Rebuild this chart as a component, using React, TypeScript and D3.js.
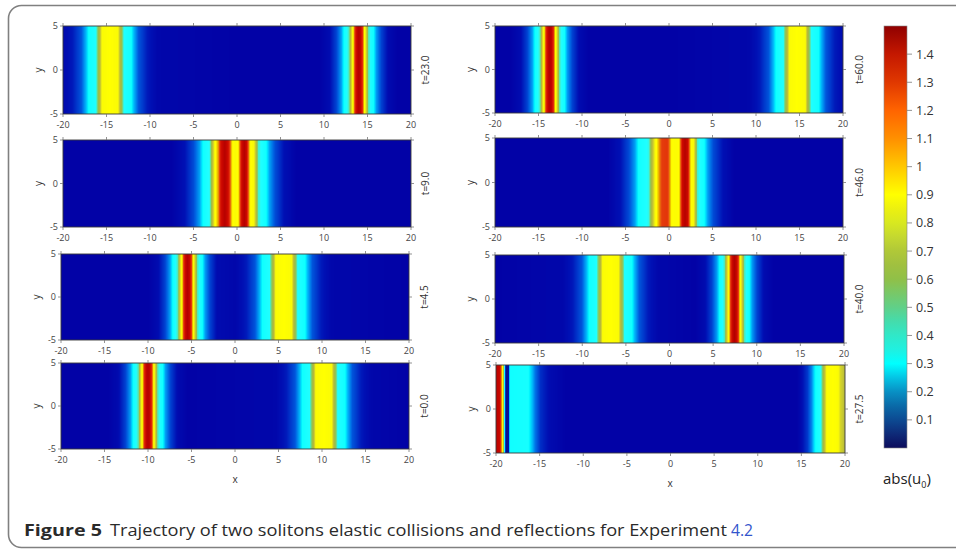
import React from "react";
import * as d3 from "d3";

// ---------- data ----------
const xTicks = [-20, -15, -10, -5, 0, 5, 10, 15, 20];
const yTicks = [-5, 0, 5];
const colorbarTicks = [0.1, 0.2, 0.3, 0.4, 0.5, 0.6, 0.7, 0.8, 0.9, 1.0, 1.1, 1.2, 1.3, 1.4];
const timeLabelsLeft = ["t=23.0", "t=9.0", "t=4.5", "t=0.0"];
const timeLabelsRight = ["t=60.0", "t=46.0", "t=40.0", "t=27.5"];

// |u0| along x (uniform in y) as [x, value] knots
const profileT23: [number, number][] = [
  [-20, 0.045], [-18.9, 0.07], [-17.9, 0.13], [-17.35, 0.22], [-17.05, 0.3], [-16.2, 0.38], [-16.05, 0.48],
  [-15.75, 0.66], [-15.5, 0.88], [-14.6, 0.93], [-13.7, 0.88], [-13.45, 0.66], [-13.15, 0.48], [-13.0, 0.38],
  [-12.15, 0.3], [-11.85, 0.22], [-11.3, 0.13], [-10.3, 0.07], [-9.1, 0.04], [0, 0.03], [9.5, 0.03],
  [10.6, 0.05], [11.4, 0.11], [12.0, 0.2], [12.3, 0.3], [12.9, 0.44], [13.05, 0.66], [13.32, 0.9], [13.45, 1.05],
  [13.58, 1.25], [13.8, 1.42], [14.0, 1.48], [14.2, 1.42], [14.42, 1.25], [14.55, 1.05], [14.68, 0.9],
  [14.95, 0.66], [15.1, 0.44], [15.7, 0.3], [16.0, 0.2], [16.6, 0.11], [17.4, 0.05], [18.5, 0.03], [20, 0.03],
];
const profileT9: [number, number][] = [
  [-20, 0.03], [-7.5, 0.03], [-6.0, 0.06], [-5.0, 0.12], [-4.3, 0.2], [-3.9, 0.3], [-3.1, 0.4], [-2.85, 0.65],
  [-2.5, 0.9], [-2.1, 1.1], [-1.85, 1.35], [-1.4, 1.47], [-1.0, 1.35], [-0.75, 1.12], [-0.55, 0.95], [-0.2, 0.88],
  [0.15, 0.95], [0.35, 1.15], [0.55, 1.38], [0.85, 1.47], [1.1, 1.38], [1.3, 1.15], [1.5, 0.95], [1.95, 0.85],
  [2.25, 0.62], [2.45, 0.42], [3.35, 0.3], [3.75, 0.2], [4.4, 0.12], [5.4, 0.06], [6.8, 0.03], [20, 0.03],
];
const profileT4_5: [number, number][] = [
  [-20, 0.03], [-10.0, 0.03], [-8.85, 0.05], [-8.05, 0.11], [-7.45, 0.2], [-7.15, 0.3], [-6.55, 0.44],
  [-6.4, 0.66], [-6.13, 0.9], [-6.0, 1.05], [-5.87, 1.25], [-5.65, 1.42], [-5.45, 1.48], [-5.25, 1.42],
  [-5.03, 1.25], [-4.9, 1.05], [-4.77, 0.9], [-4.5, 0.66], [-4.35, 0.44], [-3.75, 0.3], [-3.45, 0.2],
  [-2.85, 0.11], [-2.05, 0.05], [0.1, 0.04], [1.3, 0.07], [2.3, 0.13], [2.85, 0.22], [3.15, 0.3], [4.0, 0.38],
  [4.15, 0.48], [4.45, 0.66], [4.7, 0.88], [5.6, 0.93], [6.5, 0.88], [6.75, 0.66], [7.05, 0.48], [7.2, 0.38],
  [8.05, 0.3], [8.35, 0.22], [8.9, 0.13], [9.9, 0.07], [11.1, 0.04], [20, 0.03],
];
const profileT0: [number, number][] = [
  [-20, 0.03], [-14.5, 0.03], [-13.4, 0.05], [-12.6, 0.11], [-12.0, 0.2], [-11.7, 0.3], [-11.1, 0.44],
  [-10.95, 0.66], [-10.68, 0.9], [-10.55, 1.05], [-10.42, 1.25], [-10.2, 1.42], [-10.0, 1.48], [-9.8, 1.42],
  [-9.58, 1.25], [-9.45, 1.05], [-9.32, 0.9], [-9.05, 0.66], [-8.9, 0.44], [-8.3, 0.3], [-8.0, 0.2], [-7.4, 0.11],
  [-6.6, 0.05], [-5.5, 0.03], [4.7, 0.04], [5.9, 0.07], [6.9, 0.13], [7.45, 0.22], [7.75, 0.3], [8.6, 0.38],
  [8.75, 0.48], [9.05, 0.66], [9.3, 0.88], [10.2, 0.93], [11.1, 0.88], [11.35, 0.66], [11.65, 0.48], [11.8, 0.38],
  [12.65, 0.3], [12.95, 0.22], [13.5, 0.13], [14.5, 0.07], [15.7, 0.04], [20, 0.03],
];
const profileT60: [number, number][] = [
  [-20, 0.03], [-18.2, 0.03], [-17.1, 0.05], [-16.3, 0.11], [-15.7, 0.2], [-15.4, 0.3], [-14.8, 0.44],
  [-14.65, 0.66], [-14.38, 0.9], [-14.25, 1.05], [-14.12, 1.25], [-13.9, 1.42], [-13.7, 1.48], [-13.5, 1.42],
  [-13.28, 1.25], [-13.15, 1.05], [-13.02, 0.9], [-12.75, 0.66], [-12.6, 0.44], [-12.0, 0.3], [-11.7, 0.2],
  [-11.1, 0.11], [-10.3, 0.05], [-9.2, 0.03], [0, 0.03], [9.25, 0.04], [10.45, 0.07], [11.45, 0.13], [12.0, 0.22],
  [12.3, 0.3], [13.15, 0.38], [13.3, 0.48], [13.6, 0.66], [13.85, 0.88], [14.75, 0.93], [15.65, 0.88], [15.9, 0.66],
  [16.2, 0.48], [16.35, 0.38], [17.2, 0.3], [17.5, 0.22], [18.05, 0.13], [19.05, 0.07], [20, 0.05],
];
const profileT46: [number, number][] = [
  [-20, 0.03], [-7.0, 0.03], [-5.6, 0.06], [-4.6, 0.12], [-3.9, 0.2], [-3.5, 0.3], [-2.3, 0.4], [-2.0, 0.62],
  [-1.55, 0.88], [-1.1, 1.08], [-0.8, 1.2], [-0.2, 1.22], [0.05, 1.1], [0.3, 0.93], [0.7, 0.9], [1.15, 0.93],
  [1.35, 1.15], [1.55, 1.38], [1.85, 1.47], [2.15, 1.38], [2.35, 1.12], [2.55, 0.92], [2.85, 0.85], [3.1, 0.62],
  [3.25, 0.42], [4.05, 0.3], [4.45, 0.2], [5.1, 0.12], [6.2, 0.06], [7.5, 0.03], [20, 0.03],
];
const profileT40: [number, number][] = [
  [-20, 0.03], [-12.25, 0.04], [-11.05, 0.07], [-10.05, 0.13], [-9.5, 0.22], [-9.2, 0.3], [-8.35, 0.38],
  [-8.2, 0.48], [-7.9, 0.66], [-7.65, 0.88], [-6.75, 0.93], [-5.85, 0.88], [-5.6, 0.66], [-5.3, 0.48], [-5.15, 0.38],
  [-4.3, 0.3], [-4.0, 0.22], [-3.45, 0.13], [-2.45, 0.07], [-1.25, 0.04], [2.95, 0.03], [4.05, 0.05],
  [4.85, 0.11], [5.45, 0.2], [5.75, 0.3], [6.35, 0.44], [6.5, 0.66], [6.77, 0.9], [6.9, 1.05], [7.03, 1.25],
  [7.25, 1.42], [7.45, 1.48], [7.65, 1.42], [7.87, 1.25], [8.0, 1.05], [8.13, 0.9], [8.4, 0.66], [8.55, 0.44],
  [9.15, 0.3], [9.45, 0.2], [10.05, 0.11], [10.85, 0.05], [11.95, 0.03], [20, 0.03],
];
const profileT27_5: [number, number][] = [
  [-20, 1.45], [-19.6, 1.4], [-19.4, 1.15], [-19.25, 0.85], [-19.1, 0.6], [-18.98, 0.25], [-18.88, 0.03],
  [-18.7, 0.0], [-18.55, 0.05], [-18.42, 0.3], [-16.4, 0.33], [-16.0, 0.25], [-15.5, 0.16], [-14.9, 0.09],
  [-13.8, 0.05], [-12, 0.03], [14.5, 0.03], [15.0, 0.05], [15.7, 0.1], [16.2, 0.18], [16.55, 0.28], [16.7, 0.31],
  [17.25, 0.38], [17.4, 0.5], [17.65, 0.68], [17.95, 0.9], [18.6, 0.93], [19.15, 0.9], [19.5, 0.75], [20, 0.66],
];

// colour maps (value -> colour)
const fieldDomain = [0, 0.03, 0.06, 0.1, 0.15, 0.22, 0.28, 0.3, 0.38, 0.45, 0.55, 0.65, 0.75, 0.85, 0.93, 1.0, 1.08, 1.15, 1.25, 1.38, 1.48];
const fieldRange = ["#101a70", "#0202a6", "#0010b4", "#0038cc", "#0068e4", "#00b8fa", "#00f4ff", "#10ffff", "#20ffff", "#60e0a0", "#98c048", "#b4b83c", "#d4d428", "#f8f808", "#ffff00", "#f0d000", "#e89000", "#e85010", "#e02808", "#cc0800", "#b40000"];
const barDomain = [0, 0.05, 0.1, 0.15, 0.2, 0.25, 0.3, 0.35, 0.4, 0.45, 0.5, 0.55, 0.6, 0.65, 0.7, 0.75, 0.8, 0.85, 0.9, 0.95, 1.0, 1.05, 1.1, 1.2, 1.25, 1.3, 1.4, 1.5];
const barRange = ["#0c0c5c", "#0e2a78", "#0c4a92", "#0a6aa8", "#0890c4", "#04c4e4", "#00ffff", "#20f0e0", "#30e8c8", "#44dcac", "#60d088", "#78c868", "#90c048", "#a0c040", "#b0c838", "#c4d830", "#d8e820", "#ecf010", "#ffff00", "#ffe400", "#ffc800", "#ffac00", "#ff9000", "#ff6400", "#f04e00", "#e03800", "#c41800", "#900000"];

// ---------- layout ----------
const W = 956;
const H = 554;
const FONT = "'Open Sans', 'DejaVu Sans', sans-serif";

type Box = { x0: number; x1: number; y0: number; y1: number };
type PanelDef = { id: string; profile: [number, number][]; label: string; box: Box; labelDx: number };

const panels: PanelDef[] = [
  { id: "t23", profile: profileT23, label: timeLabelsLeft[0], box: { x0: 63, x1: 411, y0: 26, y1: 114 }, labelDx: 14 },
  { id: "t9", profile: profileT9, label: timeLabelsLeft[1], box: { x0: 63, x1: 411, y0: 140, y1: 227 }, labelDx: 14 },
  { id: "t45", profile: profileT4_5, label: timeLabelsLeft[2], box: { x0: 61, x1: 409, y0: 254, y1: 340 }, labelDx: 15 },
  { id: "t0", profile: profileT0, label: timeLabelsLeft[3], box: { x0: 61, x1: 409, y0: 363, y1: 449 }, labelDx: 15 },
  { id: "t60", profile: profileT60, label: timeLabelsRight[0], box: { x0: 495, x1: 843, y0: 26, y1: 113 }, labelDx: 16 },
  { id: "t46", profile: profileT46, label: timeLabelsRight[1], box: { x0: 495, x1: 843, y0: 138, y1: 227 }, labelDx: 16 },
  { id: "t40", profile: profileT40, label: timeLabelsRight[2], box: { x0: 495, x1: 844, y0: 255, y1: 343 }, labelDx: 15 },
  { id: "t275", profile: profileT27_5, label: timeLabelsRight[3], box: { x0: 496, x1: 845, y0: 365, y1: 453 }, labelDx: 14 },
];

const fieldColor = d3.scaleLinear<string>().domain(fieldDomain).range(fieldRange).clamp(true);
const barColor = d3.scaleLinear<string>().domain(barDomain).range(barRange).clamp(true);

function Panel({ p }: { p: PanelDef }) {
  const { box } = p;
  const x = d3.scaleLinear().domain([-20, 20]).range([box.x0, box.x1]);
  const y = d3.scaleLinear().domain([-5, 5]).range([box.y1, box.y0]);
  const value = d3
    .scaleLinear()
    .domain(p.profile.map((k) => k[0]))
    .range(p.profile.map((k) => k[1]))
    .clamp(true);
  const n = Math.round(box.x1 - box.x0) * 2;
  const stops = d3.range(n + 1).map((i) => {
    const px = box.x0 + ((box.x1 - box.x0) * i) / n;
    return { off: i / n, color: fieldColor(value(x.invert(px))) };
  });
  const gid = `grad-${p.id}`;
  const tickColor = "#777";
  const labelColor = "#444";
  return (
    <g>
      <defs>
        <linearGradient id={gid} gradientUnits="userSpaceOnUse" x1={box.x0} x2={box.x1} y1={0} y2={0}>
          {stops.map((s, i) => (
            <stop key={i} offset={s.off} stopColor={s.color} />
          ))}
        </linearGradient>
      </defs>
      <rect x={box.x0} y={box.y0} width={box.x1 - box.x0} height={box.y1 - box.y0} fill={`url(#${gid})`} />
      <rect
        x={box.x0}
        y={box.y0}
        width={box.x1 - box.x0}
        height={box.y1 - box.y0}
        fill="none"
        stroke="#3a3a3a"
        strokeWidth={0.9}
      />
      {xTicks.map((t) => (
        <g key={`xt${t}`}>
          <line x1={x(t)} x2={x(t)} y1={box.y1} y2={box.y1 + 3} stroke={tickColor} strokeWidth={0.8} />
          <line x1={x(t)} x2={x(t)} y1={box.y0} y2={box.y0 - 3} stroke={tickColor} strokeWidth={0.8} />
          <text x={x(t)} y={box.y1 + 14} textAnchor="middle" fontSize={9} fill={labelColor} fontFamily={FONT}>
            {String(t)}
          </text>
        </g>
      ))}
      {yTicks.map((t) => (
        <g key={`yt${t}`}>
          <line x1={box.x0 - 3} x2={box.x0} y1={y(t)} y2={y(t)} stroke={tickColor} strokeWidth={0.8} />
          <line x1={box.x1} x2={box.x1 + 3} y1={y(t)} y2={y(t)} stroke={tickColor} strokeWidth={0.8} />
          <text x={box.x0 - 5} y={y(t) + 3} textAnchor="end" fontSize={9} fill={labelColor} fontFamily={FONT}>
            {String(t)}
          </text>
        </g>
      ))}
      <text
        transform={`translate(${box.x0 - 25},${(box.y0 + box.y1) / 2}) rotate(-90)`}
        textAnchor="middle"
        dy="0.35em"
        fontSize={10}
        fill="#333"
        fontFamily={FONT}
      >
        y
      </text>
      <text
        transform={`translate(${box.x1 + p.labelDx},${(box.y0 + box.y1) / 2}) rotate(-90)`}
        textAnchor="middle"
        dy="0.35em"
        fontSize={10}
        fill="#333"
        fontFamily={FONT}
      >
        {p.label}
      </text>
    </g>
  );
}

function Colorbar() {
  const x0 = 884;
  const x1 = 907;
  const yScale = d3.scaleLinear().domain([0, 1.5]).range([448, 26]);
  const fmt = d3.format("~g");
  return (
    <g>
      <defs>
        <linearGradient id="cbar" gradientUnits="userSpaceOnUse" x1={0} x2={0} y1={yScale(0)} y2={yScale(1.5)}>
          {barDomain.map((v, i) => (
            <stop key={i} offset={v / 1.5} stopColor={barColor(v)} />
          ))}
        </linearGradient>
      </defs>
      <rect
        x={x0}
        y={yScale(1.5)}
        width={x1 - x0}
        height={yScale(0) - yScale(1.5)}
        fill="url(#cbar)"
        stroke="#888"
        strokeWidth={0.6}
      />
      {colorbarTicks.map((t) => (
        <g key={t}>
          <line x1={x1} x2={x1 + 5} y1={yScale(t)} y2={yScale(t)} stroke="#888" strokeWidth={0.9} />
          <text x={x1 + 9} y={yScale(t) + 4.5} fontSize={12.5} fill="#333" fontFamily={FONT}>
            {fmt(t)}
          </text>
        </g>
      ))}
      <text x={883} y={484} fontSize={15} fill="#222" fontFamily={FONT}>
        abs(u
        <tspan fontSize={9} dy={4}>0</tspan>
        <tspan dy={-4}>)</tspan>
      </text>
    </g>
  );
}

export default function App() {
  return (
    <svg
      width={W}
      height={H}
      viewBox={`0 0 ${W} ${H}`}
      style={{ position: "fixed", left: 0, top: 0, display: "block", background: "#fff" }}
    >
      <rect x={0} y={0} width={W} height={H} fill="#fff" />
      <rect x={8.5} y={5.5} width={980} height={542} rx={13} ry={13} fill="none" stroke="#808080" strokeWidth={1.6} />
      {panels.map((p) => (
        <Panel key={p.id} p={p} />
      ))}
      <text x={235} y={483} textAnchor="middle" fontSize={10} fill="#333" fontFamily={FONT}>
        x
      </text>
      <text x={670} y={487} textAnchor="middle" fontSize={10} fill="#333" fontFamily={FONT}>
        x
      </text>
      <Colorbar />
      <text y={536} fontSize={15.5} fontFamily={FONT} fill="#2a2a2a">
        <tspan x={24} fontWeight={700} textLength={78} lengthAdjust="spacingAndGlyphs">
          Figure 5
        </tspan>
        <tspan x={110} textLength={617} lengthAdjust="spacingAndGlyphs">
          Trajectory of two solitons elastic collisions and reflections for Experiment
        </tspan>
        <tspan x={731} fill="#3355cc" textLength={22} lengthAdjust="spacingAndGlyphs">
          4.2
        </tspan>
      </text>
    </svg>
  );
}
